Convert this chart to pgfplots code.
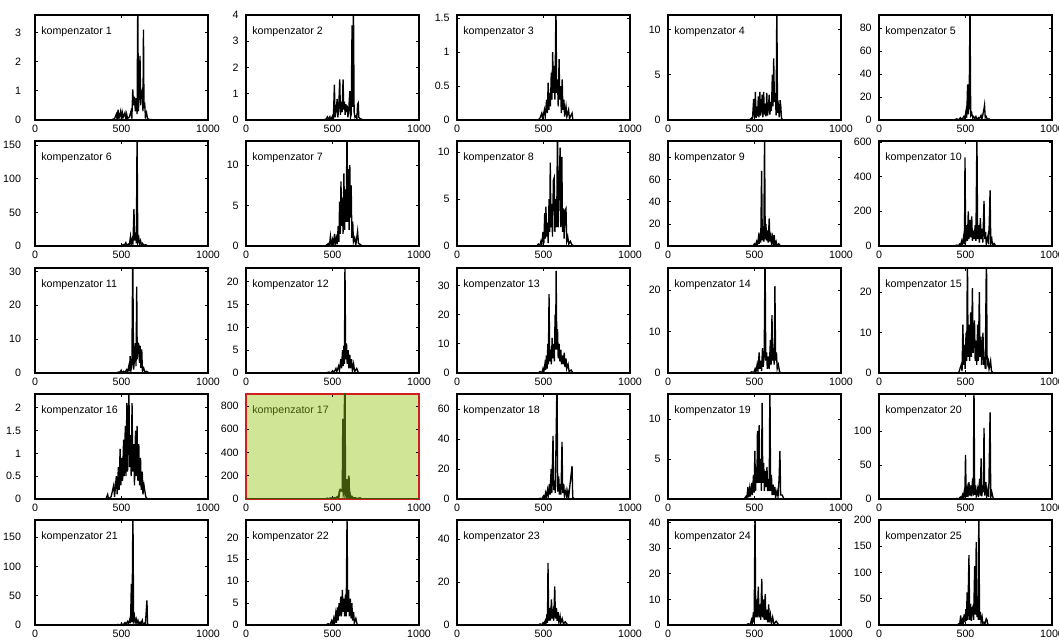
\documentclass[border=0pt]{standalone}
\usepackage{pgfplots}
\pgfplotsset{compat=1.18}
\usepackage{fontspec}
\setmainfont{Liberation Sans}
\definecolor{hlfill}{RGB}{208,229,150}
\definecolor{hlline}{RGB}{62,84,10}
\definecolor{hlred}{RGB}{210,30,30}
\newcommand{\lab}{\fontsize{8}{9}\selectfont}
\pgfplotsset{
  pan/.style={scale only axis, width=129.75pt, height=78.75pt,
    xmin=0, xmax=1000, ymin=0, xtick={0,500,1000},
    tick align=inside, major tick length=2pt,
    tick style={black, line width=0.5pt},
    axis line style={line width=0.8pt},
    ticklabel style={font=\lab},
    yticklabel style={xshift=-2pt},
    /pgf/number format/assume math mode=true,
    /pgf/number format/1000 sep={},
    scaled y ticks=false, anchor=south west, clip=true},
  dat/.style={black, line width=1pt, sharp plot, no markers},
}
\newcommand{\panel}[7]{%
\begin{axis}[pan, at={(#1pt,#2pt)}, ymax=#3, ytick={#4}, #6]
\addplot[dat] coordinates {#7};
\node[anchor=west, font=\lab, inner sep=0pt] at (rel axis cs:0.035,0.84) {kompenzator #5};
\end{axis}}
\begin{document}
\begin{tikzpicture}
% row 1  (y = 390.75)
\panel{26.25}{390.75}{3.6}{0,1,2,3}{1}{yticklabel style={xshift=-5pt}}{(0,0)(440,0)(460,0.05)(470,0.2)(475,0)(480,0.35)(485,0.05)(495,0.3)(500,0)(505,0.25)(510,0.1)(520,0.25)(525,0)(530,0.2)(535,0.05)(545,0.1)(555,0.3)(560,0.05)(565,1.05)(570,0.5)(575,0.8)(580,0.3)(585,0.75)(590,0.2)(594,4)(598,0.3)(603,1.2)(607,2.2)(611,0.5)(615,0.9)(621,1.05)(624,0.3)(627,3.1)(630,0.4)(634,0.6)(638,0.1)(645,0.25)(650,0.05)(660,0.02)(700,0)(1000,0)}
\panel{184.5}{390.75}{4}{0,1,2,3,4}{2}{}{(0,0)(450,0)(465,0.05)(470,0.12)(478,0.02)(485,0.12)(490,0)(500,0.15)(505,0.05)(511,1.35)(515,0.1)(520,0.3)(527,0.8)(531,0.1)(536,0.5)(542,1.55)(546,0.2)(551,0.7)(556,0.3)(561,1.55)(565,0.4)(569,0.7)(573,0.2)(577,0.6)(581,0.3)(585,0.55)(589,0.1)(594,0.4)(600,1.1)(604,0.1)(608,0.2)(613,3.6)(617,0.5)(621,4.5)(625,0.3)(630,0.1)(636,0.15)(641,0.05)(645,0.6)(649,0.65)(652,0.1)(660,0.05)(680,0)(1000,0)}
\panel{342.75}{390.75}{1.55}{0,0.5,1,1.5}{3}{}{(0,0)(470,0)(480,0.03)(490,0.1)(495,0.02)(505,0.15)(510,0.05)(518,0.3)(522,0.1)(527,0.55)(531,0.15)(536,0.4)(540,0.2)(545,0.7)(549,0.3)(553,1.0)(557,0.4)(562,0.8)(566,0.3)(572,1.7)(576,0.4)(581,0.6)(585,0.2)(590,0.9)(594,0.3)(599,0.5)(603,0.1)(608,0.6)(612,0.15)(618,0.3)(622,0.05)(630,0.2)(635,0.05)(645,0.15)(650,0.02)(665,0.1)(670,0)(1000,0)}
\panel{501}{390.75}{11.6}{0,5,10}{4}{}{(0,0)(470,0)(482,0.2)(488,0)(495,2.3)(500,0.3)(505,3.1)(509,0.2)(514,1.5)(518,0.4)(522,2.6)(526,0.3)(531,3.1)(535,0.5)(540,1.2)(544,2.8)(548,0.3)(553,3.1)(557,0.6)(562,1.8)(566,0.4)(571,3.0)(575,0.5)(580,1.2)(585,2.8)(589,0.6)(594,2.0)(598,1.0)(603,5.0)(607,1.5)(611,6.8)(615,2.0)(620,3.0)(625,0.5)(629,13)(633,0.8)(638,1.5)(643,0.3)(648,2.2)(652,1.5)(656,0.2)(665,0)(1000,0)}
\panel{659.25}{390.75}{91.5}{0,20,40,60,80}{5}{}{(0,0)(430,0)(450,1)(460,0)(470,2)(480,0.5)(490,3)(495,1)(503,8)(507,2)(512,31)(516,5)(521,12)(526,100)(530,4)(536,6)(541,2)(547,3)(552,1)(560,3)(565,0.5)(575,2)(580,1)(590,4)(595,1)(605,8)(610,13)(614,2)(620,3)(626,0.5)(635,1)(645,0)(1000,0)}
% row 2 (y = 296.25)
\panel{26.25}{296.25}{156}{0,50,100,150}{6}{yticklabel style={xshift=-5pt}}{(0,0)(480,0)(500,0.5)(510,2)(515,0)(525,5)(530,1)(540,3)(545,1)(552,14)(556,3)(562,10)(566,2)(572,55)(576,8)(582,20)(586,4)(590,170)(594,6)(600,12)(604,3)(610,8)(615,2)(622,4)(628,1)(640,2)(650,0)(1000,0)}
\panel{184.5}{296.25}{13}{0,5,10}{7}{}{(0,0)(460,0)(475,0.3)(482,0)(488,1.2)(493,0.2)(500,0.8)(505,0.1)(512,1.5)(516,0.3)(522,1.0)(527,0.2)(533,2.5)(537,0.5)(541,5.5)(545,1.5)(549,8.0)(553,2.5)(557,6.0)(561,1.5)(566,9.0)(570,2.0)(575,7.0)(579,3.0)(584,15)(588,3.0)(592,9.5)(596,2.0)(600,10.0)(604,3.5)(608,7.5)(612,1.0)(617,3.0)(621,0.5)(628,1.0)(635,0.2)(645,1.8)(650,0.3)(660,0.2)(670,0)(1000,0)}
\panel{342.75}{296.25}{11.2}{0,5,10}{8}{}{(0,0)(460,0)(470,0.2)(478,0)(485,0.5)(490,0.1)(497,1.5)(502,0.3)(507,3.5)(511,0.8)(514,4.2)(518,1.0)(523,2.5)(527,0.3)(532,5.0)(536,1.5)(539,8.9)(543,2.0)(548,4.5)(552,1.0)(557,7.0)(562,7.3)(566,1.5)(571,5.0)(576,2.0)(581,13)(585,2.0)(590,6.0)(596,10.5)(600,2.0)(606,9.5)(610,1.5)(615,4.0)(619,0.8)(625,3.8)(630,4.0)(634,0.5)(640,1.0)(646,0.2)(655,0.5)(665,0.1)(680,0)(1000,0)}
\panel{501}{296.25}{95}{0,20,40,60,80}{9}{}{(0,0)(460,0)(480,0.5)(490,0)(500,2)(505,0.5)(512,4)(517,1)(523,8)(527,2)(532,12)(536,3)(541,68)(545,5)(550,18)(554,4)(558,100)(562,6)(566,20)(570,5)(575,14)(579,3)(585,25)(589,4)(594,12)(598,2)(604,8)(608,2)(614,10)(618,1)(625,4)(630,0.5)(640,2)(650,0)(1000,0)}
\panel{659.25}{296.25}{605}{0,200,400,600}{10}{}{(0,0)(430,0)(450,5)(458,0)(465,10)(470,2)(478,30)(482,5)(490,60)(494,10)(497,510)(501,20)(507,120)(511,30)(516,200)(520,40)(526,150)(530,50)(536,170)(540,30)(546,90)(550,40)(556,120)(560,30)(566,650)(570,40)(576,120)(580,20)(586,160)(590,40)(596,100)(600,20)(607,260)(611,40)(616,80)(620,10)(630,60)(634,10)(642,320)(646,20)(652,40)(656,5)(665,15)(675,0)(1000,0)}
% row 3 (y = 201)
\panel{26.25}{201}{31}{0,10,20,30}{11}{yticklabel style={xshift=-5pt}}{(0,0)(470,0)(485,0.3)(490,0)(498,0.8)(503,0.1)(512,0.5)(520,0.2)(530,1.0)(535,0.3)(542,2.0)(546,0.5)(550,5.0)(555,1.0)(560,2.5)(565,35)(570,1.0)(575,4.0)(580,8.8)(584,2.0)(588,25.5)(591,4)(595,8.8)(600,8.5)(604,3.0)(608,8.0)(612,1.5)(617,7.0)(621,0.5)(628,1.5)(635,0.3)(645,0.5)(660,0)(1000,0)}
\panel{184.5}{201}{23}{0,5,10,15,20}{12}{}{(0,0)(460,0)(480,0.2)(490,0)(500,0.5)(510,0.2)(520,1.0)(525,0.3)(535,1.5)(540,0.5)(548,3.0)(552,1.0)(558,5.0)(562,1.5)(566,6.0)(569,2)(572,24)(576,3.0)(581,6.5)(585,2.0)(590,5.0)(594,1.0)(600,4.0)(604,1.0)(610,3.0)(615,0.5)(622,2.0)(628,0.3)(640,1.0)(650,0)(1000,0)}
\panel{342.75}{201}{36}{0,10,20,30}{13}{}{(0,0)(470,0)(480,0.5)(490,0)(497,1.5)(502,0.3)(508,3.0)(512,1.0)(517,6.0)(521,1.5)(525,10)(528,3)(532,27)(536,4)(541,8)(545,3)(550,12)(554,5)(559,10)(563,4)(567,20)(570,8)(573,35)(577,8)(581,15)(585,5)(590,10)(594,4)(600,8)(604,3)(610,6)(614,3)(620,7)(624,2)(630,5)(634,1.5)(642,3)(648,0.5)(660,1)(670,0)(1000,0)}
\panel{501}{201}{25.4}{0,10,20}{14}{}{(0,0)(470,0)(485,0.3)(495,0)(503,1)(508,0.2)(515,2)(520,0.5)(527,5)(531,1)(537,3)(541,0.5)(546,6)(550,1.5)(556,4)(561,30)(565,3)(570,5)(574,1)(580,4)(585,1)(592,8)(596,2)(601,14)(605,3)(610,6)(614,2)(618,21)(622,3)(627,5)(631,1)(638,2)(645,0.3)(655,0)(1000,0)}
\panel{659.25}{201}{26}{0,10,20}{15}{}{(0,0)(460,0)(475,2)(480,0.5)(485,12)(489,2)(494,7)(498,1)(503,10)(507,3)(511,30)(515,4)(520,12)(524,3)(530,15)(534,4)(540,21)(544,5)(548,9)(552,13)(556,3)(561,8)(565,2)(570,12)(574,3)(580,20)(584,4)(589,9)(593,2)(601,10)(605,2)(610,4)(614,1)(621,30)(625,2)(632,3)(636,1)(645,3)(650,0.5)(660,0)(1000,0)}
% row 4 (y = 106.5)
\panel{26.25}{106.5}{2.3}{0,0.5,1,1.5,2}{16}{yticklabel style={xshift=-5pt}}{(0,0)(410,0)(420,0.1)(425,0)(440,0.05)(455,0.3)(460,0.05)(470,0.5)(475,0.1)(482,0.7)(486,0.2)(492,1.1)(496,0.3)(502,0.9)(506,0.4)(512,1.3)(516,0.5)(522,1.6)(526,0.5)(531,2.1)(535,0.6)(543,2.4)(547,0.7)(552,1.4)(556,0.5)(561,2.1)(565,0.6)(571,1.2)(575,0.3)(581,1.5)(585,0.5)(590,1.6)(594,0.4)(600,1.2)(604,0.3)(610,0.9)(614,0.2)(620,0.6)(624,0.1)(630,0.3)(640,0.05)(650,0)(1000,0)}
\begin{axis}[pan, at={(184.5pt,106.5pt)}, ymax=904, ytick={0,200,400,600,800},
  axis background/.style={fill=hlfill}, axis line style={draw=hlred, line width=0.9pt}]
\addplot[hlline, line width=1.4pt, sharp plot, no markers] coordinates {(0,0)(460,0)(470,5)(480,0)(490,8)(500,2)(510,10)(515,3)(522,12)(530,20)(535,5)(540,60)(545,80)(550,75)(555,70)(558,80)(561,690)(564,60)(567,80)(571,950)(574,40)(578,60)(581,170)(584,20)(588,40)(591,10)(594,200)(597,20)(601,40)(605,10)(612,20)(620,5)(630,10)(640,2)(660,8)(665,0)(1000,0)};
\node[anchor=west, font=\lab, text=hlline, inner sep=0pt] at (rel axis cs:0.035,0.84) {kompenzator 17};
\end{axis}
\panel{342.75}{106.5}{70}{0,20,40,60}{18}{}{(0,0)(470,0)(480,0.5)(490,0)(500,2)(505,0.5)(512,4)(516,1)(523,6)(527,2)(534,10)(538,3)(544,20)(548,4)(555,42)(559,6)(564,12)(568,4)(578,80)(582,5)(588,15)(592,3)(597,10)(601,3)(607,38)(611,4)(617,10)(621,2)(630,6)(634,1)(640,5)(645,1)(665,22)(669,1)(680,0)(1000,0)}
\panel{501}{106.5}{13.1}{0,5,10}{19}{}{(0,0)(440,0)(450,0.3)(455,0)(462,1.5)(466,0.2)(472,1.3)(476,0.3)(484,2.0)(488,0.5)(494,3.0)(498,0.8)(502,6.0)(506,1.0)(511,4.0)(514,2)(517,8.5)(521,2)(527,9.2)(531,2.0)(536,5.0)(540,1.0)(544,12.0)(548,2)(553,4.5)(557,1.0)(563,3.5)(567,1.5)(572,4.0)(576,1.0)(581,2.5)(585,1.0)(589,15)(593,1.0)(598,3.0)(602,0.5)(608,1.8)(612,0.5)(618,1.5)(622,0.2)(630,1.0)(636,0.3)(642,2.5)(647,6.0)(651,0.5)(660,0.5)(670,0)(1000,0)}
\panel{659.25}{106.5}{155}{0,50,100}{20}{}{(0,0)(440,0)(450,1)(460,0)(470,3)(475,0.5)(482,6)(486,1)(492,10)(496,2)(500,65)(504,3)(510,15)(514,3)(520,25)(524,5)(530,20)(534,4)(541,30)(545,5)(549,170)(553,6)(558,20)(562,4)(570,15)(574,3)(582,30)(586,5)(590,60)(594,4)(600,20)(603,10)(607,105)(611,5)(618,25)(622,3)(630,15)(634,3)(642,128)(646,3)(652,10)(660,1)(670,0)(1000,0)}
% row 5 (y = 12)
\panel{26.25}{12}{179}{0,50,100,150}{21}{yticklabel style={xshift=-5pt}}{(0,0)(470,0)(480,1)(490,0)(500,2)(510,0.5)(520,4)(525,1)(535,6)(540,2)(548,10)(552,3)(557,70)(561,5)(566,200)(570,8)(575,15)(579,4)(585,10)(589,3)(595,8)(600,2)(607,5)(612,1)(620,8)(625,1)(632,3)(638,0.5)(647,42)(651,1)(660,0)(1000,0)}
\panel{184.5}{12}{24}{0,5,10,15,20}{22}{}{(0,0)(460,0)(475,0.3)(485,0)(495,1)(500,0.2)(507,1.5)(511,0.3)(518,2.5)(522,0.5)(528,4)(532,1)(538,5)(542,2)(548,6.5)(552,2)(557,8)(561,3)(566,6)(570,2)(575,7)(579,2)(584,25)(588,3)(593,8)(597,2)(603,6)(607,1.5)(612,5)(616,1)(622,3)(626,0.5)(635,1.5)(642,0.2)(650,0)(1000,0)}
\panel{342.75}{12}{49}{0,20,40}{23}{}{(0,0)(470,0)(480,0.5)(490,0)(497,1)(502,0.2)(510,2)(514,0.5)(520,5)(523,1)(526,29)(530,2)(536,8)(540,2)(546,12)(550,3)(555,6)(559,2)(565,18)(569,3)(575,8)(579,2)(585,6)(589,1)(596,4)(600,1)(608,3)(615,0.5)(625,1.5)(640,0)(1000,0)}
\panel{501}{12}{41}{0,10,20,30,40}{24}{}{(0,0)(450,0)(465,0.5)(475,0)(482,2)(487,0.5)(494,5)(498,1)(503,45)(507,3)(512,10)(516,3)(522,15)(526,3)(532,8)(536,2)(542,18)(546,3)(552,10)(556,2)(562,12)(566,2)(572,6)(576,1)(582,8)(586,1)(592,4)(598,0.5)(605,3)(612,0.3)(625,1.5)(640,0)(1000,0)}
\panel{659.25}{12}{200}{0,50,100,150,200}{25}{}{(0,0)(450,0)(460,2)(466,0)(472,18)(476,3)(482,10)(486,2)(492,20)(496,5)(502,30)(506,8)(509,62)(513,10)(520,133)(524,10)(530,40)(534,8)(538,30)(543,35)(547,10)(553,112)(557,20)(562,158)(566,15)(570,30)(574,10)(577,250)(581,10)(586,25)(590,5)(596,15)(600,3)(607,5)(612,2)(620,12)(624,10)(628,2)(640,0)(1000,0)}
\pgfresetboundingbox
\path (0pt,0pt) rectangle (794.25pt,480.75pt);
\end{tikzpicture}
\end{document}
